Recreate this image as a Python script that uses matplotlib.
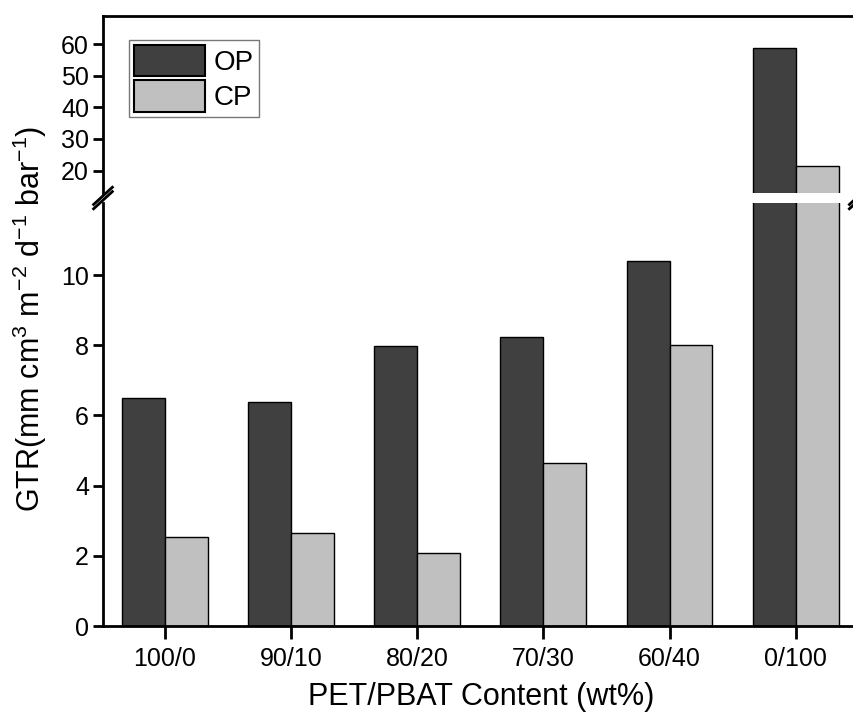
import numpy as np
import matplotlib.pyplot as plt

plt.rcParams['font.family'] = ['Liberation Sans', 'DejaVu Sans']
plt.rcParams['mathtext.fontset'] = 'custom'
plt.rcParams['mathtext.rm'] = 'Liberation Sans'

categories = ['100/0', '90/10', '80/20', '70/30', '60/40', '0/100']
op_values = [6.5, 6.38, 7.98, 8.23, 10.4, 58.7]
cp_values = [2.54, 2.65, 2.08, 4.64, 8.0, 21.3]

fig = plt.figure(figsize=(8.54, 7.18), dpi=100)
# broken y axis: upper part (13-69) and lower part (0-12)
ax_top = fig.add_axes([0.1206, 0.7312, 0.885, 0.2465])
ax_bot = fig.add_axes([0.1206, 0.1281, 0.885, 0.5891])

x = np.arange(len(categories))
w = 0.34
for ax in (ax_top, ax_bot):
    ax.bar(x - w / 2, op_values, w, color='#404040', edgecolor='black', linewidth=1, label='OP')
    ax.bar(x + w / 2, cp_values, w, color='#c0c0c0', edgecolor='black', linewidth=1, label='CP')
    ax.set_xlim(-0.49, 5.5)
    for s in ax.spines.values():
        s.set_linewidth(2)
    ax.tick_params(axis='y', direction='out', length=7, width=2, labelsize=18, pad=3)

ax_top.set_ylim(12.9, 68.9)
ax_top.set_yticks([20, 30, 40, 50, 60])
ax_top.spines['bottom'].set_visible(False)
ax_top.set_xticks([])

ax_bot.set_ylim(0, 12.05)
ax_bot.set_yticks([0, 2, 4, 6, 8, 10])
ax_bot.spines['top'].set_visible(False)
ax_bot.set_xticks(x)
ax_bot.set_xticklabels(categories)
ax_bot.tick_params(axis='x', direction='out', length=9, width=2, labelsize=18, pad=6)
ax_bot.set_xlabel('PET/PBAT Content (wt%)', fontsize=22, labelpad=8)

# break marks on the y axis
for xb in (0, 1):
    for yb in (0.7312 - 0.004, 0.7172 + 0.004):
        fig.add_artist(plt.Line2D([0.1206 + xb * 0.885 - 0.011, 0.1206 + xb * 0.885 + 0.011],
                                  [yb - 0.012, yb + 0.012], color='black', lw=2))

leg = ax_top.legend(loc='upper left', bbox_to_anchor=(0.0344, 0.864), fontsize=20,
                    handlelength=2.55, handleheight=1.35, handletextpad=0.32,
                    labelspacing=0.15, borderpad=0.18, borderaxespad=0,
                    fancybox=False, edgecolor='#555555')
leg.get_frame().set_linewidth(1)
for h in leg.legend_handles:
    h.set_linewidth(1.5)

fig.text(0.035, 0.5557,
         r'GTR(mm cm$^{\mathregular{3}}$ m$^{\mathregular{-2}}$ d$^{\mathregular{-1}}$ bar$^{\mathregular{-1}}$)',
         rotation=90, fontsize=22, ha='center', va='center')

fig.savefig('out.png', dpi=100)
